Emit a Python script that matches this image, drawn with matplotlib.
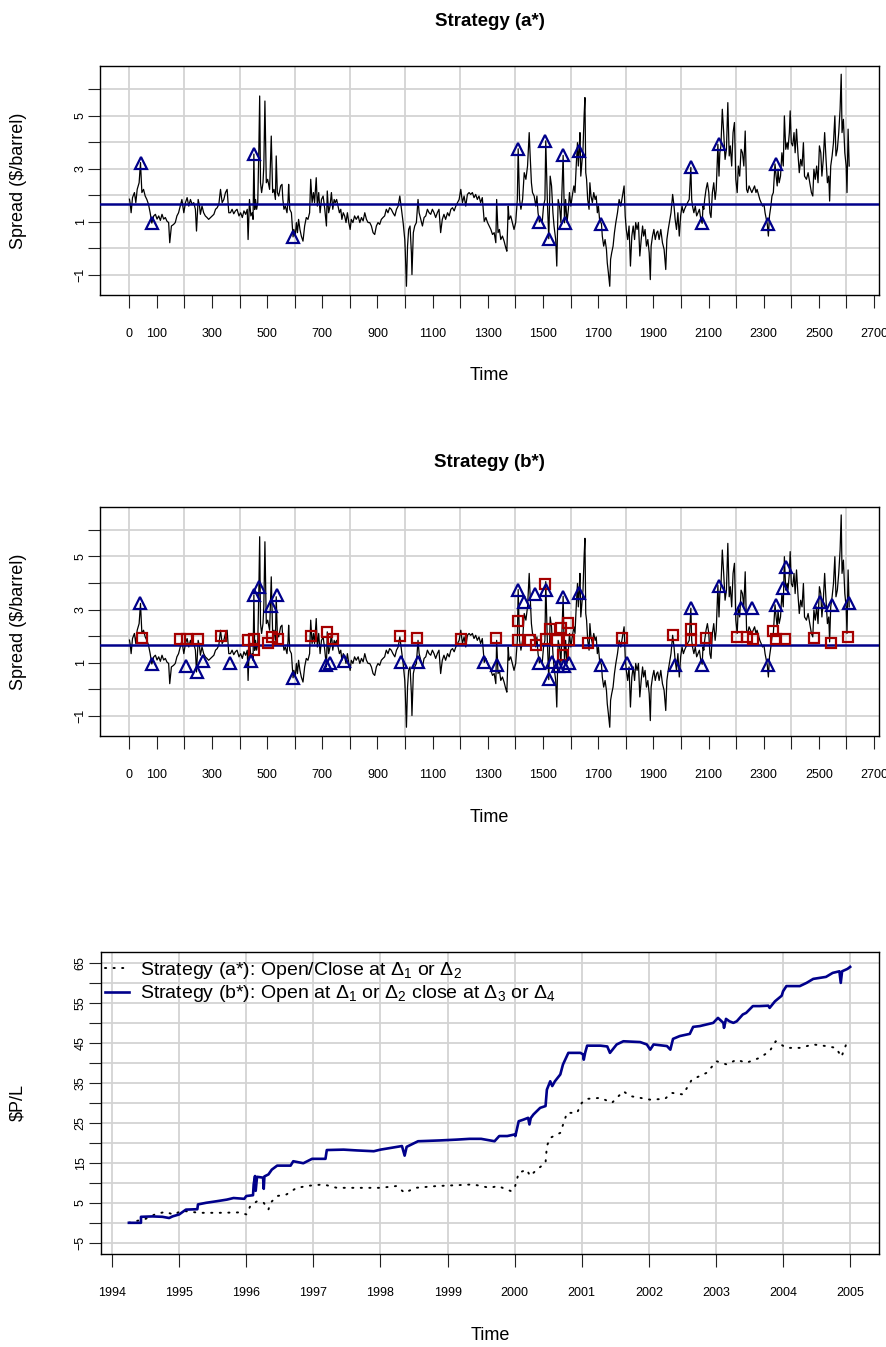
import matplotlib
matplotlib.use("Agg")
import matplotlib.pyplot as plt
from matplotlib.lines import Line2D
import numpy as np

plt.rcParams['font.family'] = ['Liberation Sans', 'DejaVu Sans']
plt.rcParams['mathtext.fontset'] = 'custom'
plt.rcParams['mathtext.rm'] = 'Liberation Sans'
plt.rcParams['mathtext.it'] = 'Liberation Sans:italic'
plt.rcParams['axes.unicode_minus'] = True

# ---------------------------------------------------------------- data
# daily crack spread ($/barrel), (trading day, value)
spread_obs = [
    (1, 1.85), (4, 1.66), (7, 1.34), (12, 1.91), (19, 2.10), (24, 1.72), (29, 2.22), (36, 2.47),
    (41, 3.23), (46, 2.10), (52, 2.22), (58, 1.97), (64, 1.84), (70, 1.66), (76, 1.34), (82, 0.95),
    (89, 1.22), (95, 1.28), (101, 1.10), (107, 1.22), (113, 1.05), (119, 1.28), (125, 1.10),
    (131, 1.16), (137, 1.02), (143, 0.97), (147, 0.21), (153, 0.84), (161, 0.90), (167, 0.97),
    (173, 1.22), (179, 1.34), (185, 1.59), (191, 1.84), (198, 1.34), (204, 1.72), (210, 1.91),
    (216, 1.59), (222, 1.84), (228, 1.66), (234, 1.72), (240, 1.47), (244, 0.65), (250, 1.84),
    (255, 1.59), (258, 1.28), (264, 1.59), (270, 1.34), (276, 1.22), (282, 1.16), (288, 1.09),
    (295, 1.16), (301, 1.22), (307, 1.28), (313, 1.47), (319, 1.53), (325, 1.66), (331, 2.22),
    (337, 1.72), (343, 1.84), (349, 2.10), (355, 2.22), (361, 1.34), (367, 1.34), (373, 1.47),
    (379, 1.30), (385, 1.41), (391, 1.47), (398, 1.22), (404, 1.34), (410, 1.16), (416, 1.41),
    (422, 1.28), (428, 1.47), (431, 0.33), (436, 1.84), (441, 1.22), (446, 1.34), (449, 1.09),
    (452, 3.55), (455, 1.46), (458, 1.84), (462, 1.47), (466, 1.72), (470, 3.73), (473, 5.74),
    (476, 2.47), (480, 2.10), (485, 2.47), (488, 3.10), (492, 5.55), (497, 2.47), (502, 2.60),
    (509, 2.22), (515, 4.23), (520, 2.10), (525, 2.22), (530, 1.84), (533, 3.48), (537, 2.10),
    (542, 1.97), (549, 2.35), (554, 2.41), (557, 1.84), (561, 1.47), (566, 1.59), (572, 1.34),
    (576, 1.84), (578, 2.41), (582, 1.47), (588, 1.34), (594, 0.43), (597, 0.71), (602, 0.46),
    (606, 0.97), (610, 0.59), (614, 1.09), (619, 0.71), (624, 0.46), (630, 0.27), (636, 0.84),
    (642, 1.16), (648, 1.09), (654, 1.34), (658, 2.60), (663, 1.72), (668, 2.10), (672, 1.72),
    (678, 2.66), (682, 1.59), (687, 2.10), (692, 1.34), (697, 1.84), (703, 1.97), (709, 1.47),
    (715, 0.84), (718, 2.16), (723, 1.34), (728, 1.59), (733, 2.10), (738, 1.47), (743, 1.84),
    (747, 1.72), (752, 1.84), (757, 1.59), (762, 1.34), (767, 1.47), (771, 1.09), (776, 1.34),
    (781, 1.22), (786, 0.97), (791, 1.34), (796, 0.97), (801, 0.71), (805, 1.09), (811, 0.97),
    (817, 1.22), (823, 1.09), (830, 1.22), (836, 0.97), (842, 1.16), (848, 1.03), (854, 1.34),
    (860, 1.09), (866, 0.97), (872, 0.97), (878, 0.84), (884, 0.59), (890, 0.52), (896, 0.84),
    (902, 0.97), (908, 0.90), (914, 1.09), (920, 1.16), (926, 1.22), (932, 1.47), (938, 1.34),
    (944, 1.53), (950, 1.47), (956, 1.34), (963, 1.22), (969, 1.47), (975, 1.59), (981, 1.97),
    (987, 1.47), (993, 0.97), (999, 0.33), (1001, -0.17), (1005, -1.43), (1009, 0.08), (1013, 0.71),
    (1018, 0.84), (1023, -0.17), (1025, -0.99), (1030, 0.59), (1035, 0.84), (1041, 0.97),
    (1047, 1.84), (1051, 1.34), (1057, 1.09), (1063, 0.84), (1069, 1.16), (1075, 1.22), (1081, 1.47),
    (1087, 1.34), (1093, 1.28), (1099, 1.47), (1105, 1.34), (1111, 1.16), (1117, 1.34), (1123, 1.47),
    (1129, 0.59), (1135, 1.09), (1141, 1.28), (1147, 1.09), (1154, 1.34), (1160, 1.22), (1166, 1.47),
    (1172, 1.53), (1178, 1.41), (1184, 1.59), (1190, 1.72), (1196, 1.84), (1202, 2.22), (1208, 1.72),
    (1214, 1.97), (1220, 1.59), (1226, 2.03), (1232, 2.10), (1238, 2.03), (1244, 2.10), (1250, 1.91),
    (1256, 2.03), (1262, 1.84), (1268, 1.97), (1274, 1.72), (1280, 1.91), (1287, 1.01), (1293, 1.16),
    (1299, 0.97), (1305, 0.84), (1311, 0.71), (1317, 0.52), (1323, 0.59), (1329, 0.21), (1332, 1.84),
    (1337, 0.59), (1342, 0.71), (1347, 0.33), (1353, 0.46), (1359, 0.27), (1365, 0.02), (1369, -0.11),
    (1374, 1.59), (1377, 1.09), (1383, 1.22), (1389, 0.97), (1395, 0.71), (1401, 0.97), (1407, 1.84),
    (1410, 3.75), (1415, 1.84), (1420, 1.47), (1426, 1.84), (1432, 2.85), (1438, 2.60), (1444, 3.10),
    (1450, 4.36), (1453, 3.60), (1458, 2.47), (1462, 2.10), (1468, 1.97), (1474, 1.59), (1478, 1.97),
    (1482, 1.34), (1487, 0.99), (1492, 1.09), (1497, 0.97), (1502, 1.59), (1507, 1.84), (1510, 4.05),
    (1516, 1.72), (1521, 0.36), (1526, 2.72), (1531, 2.35), (1536, 1.34), (1540, 0.84), (1546, 0.33),
    (1550, -0.67), (1555, 1.84), (1560, 1.59), (1565, 0.97), (1573, 3.50), (1578, 0.96), (1582, 1.84),
    (1587, 0.97), (1592, 1.47), (1596, 2.10), (1601, 1.59), (1606, 1.97), (1612, 2.35), (1616, 2.10),
    (1621, 3.23), (1625, 3.98), (1628, 3.10), (1631, 3.67), (1634, 4.36), (1637, 2.72), (1640, 3.10),
    (1645, 3.73), (1649, 4.99), (1652, 5.68), (1655, 2.85), (1658, 2.60), (1662, 1.84), (1667, 1.47),
    (1670, 2.47), (1674, 1.97), (1679, 1.72), (1684, 2.10), (1689, 1.84), (1693, 1.97), (1697, 1.34),
    (1701, 1.59), (1705, 1.09), (1712, 0.92), (1715, 0.46), (1720, 0.08), (1725, 0.33), (1730, -0.04),
    (1733, -0.55), (1737, -0.92), (1742, -1.43), (1745, -0.42), (1749, -0.17), (1754, 0.08),
    (1759, 0.59), (1764, 0.97), (1770, 1.34), (1776, 1.84), (1782, 1.59), (1788, 1.97), (1794, 2.35),
    (1798, 1.22), (1802, 0.71), (1807, 0.33), (1812, 0.84), (1817, -0.67), (1822, 0.46), (1827, 0.84),
    (1832, 0.33), (1836, 0.97), (1841, 0.71), (1846, 0.97), (1851, -0.29), (1856, 0.33), (1861, 0.84),
    (1865, 0.46), (1870, 0.71), (1875, 0.08), (1880, 0.33), (1885, -0.17), (1889, -1.18), (1892, 0.08),
    (1897, 0.46), (1902, 0.71), (1907, 0.33), (1912, 0.59), (1916, 0.65), (1921, 0.33), (1927, 0.71),
    (1933, 0.21), (1939, -0.04), (1945, -0.80), (1949, 0.33), (1954, 0.71), (1958, 0.97), (1964, 1.34),
    (1970, 2.03), (1975, 1.59), (1979, 1.09), (1984, 0.71), (1989, 1.34), (1994, 0.46), (1999, 1.22),
    (2004, 1.59), (2009, 1.34), (2013, 1.47), (2018, 1.59), (2024, 1.72), (2030, 1.84), (2036, 3.05),
    (2039, 1.84), (2042, 1.59), (2047, 1.34), (2052, 1.59), (2057, 1.22), (2062, 1.34), (2067, 1.47),
    (2072, 1.09), (2077, 0.94), (2080, 1.59), (2083, 1.47), (2086, 1.84), (2091, 2.22), (2096, 2.47),
    (2101, 2.10), (2105, 1.34), (2109, 1.16), (2114, 2.10), (2119, 2.47), (2124, 1.84), (2128, 2.22),
    (2134, 3.92), (2138, 2.72), (2141, 3.60), (2145, 3.86), (2150, 5.24), (2155, 4.36), (2160, 3.35),
    (2165, 3.73), (2170, 5.49), (2175, 3.48), (2179, 3.86), (2184, 3.10), (2189, 4.36), (2194, 4.74),
    (2199, 2.60), (2204, 2.10), (2208, 3.10), (2213, 2.72), (2218, 3.73), (2223, 3.60), (2228, 3.10),
    (2233, 4.42), (2238, 2.22), (2242, 2.10), (2247, 2.35), (2252, 2.22), (2257, 2.10), (2262, 2.22),
    (2267, 2.35), (2272, 2.10), (2276, 2.22), (2281, 2.03), (2286, 1.84), (2291, 1.72), (2296, 1.59),
    (2301, 1.66), (2305, 1.34), (2313, 0.91), (2317, 0.46), (2321, 1.22), (2326, 1.59), (2330, 1.97),
    (2335, 2.10), (2341, 3.18), (2345, 2.72), (2349, 2.35), (2352, 2.98), (2356, 2.47), (2361, 2.72),
    (2366, 3.60), (2371, 3.10), (2375, 4.99), (2380, 3.73), (2385, 3.98), (2388, 3.73), (2393, 4.36),
    (2396, 5.18), (2400, 3.98), (2405, 3.86), (2410, 4.36), (2414, 3.60), (2419, 4.49), (2424, 3.60),
    (2429, 2.85), (2434, 3.35), (2439, 3.10), (2444, 3.98), (2448, 2.72), (2455, 2.60), (2461, 2.85),
    (2467, 2.47), (2473, 2.10), (2478, 1.97), (2482, 2.98), (2487, 2.60), (2492, 3.10), (2497, 2.47),
    (2502, 3.86), (2507, 3.60), (2511, 2.72), (2516, 3.35), (2521, 4.36), (2526, 3.35), (2531, 2.47),
    (2536, 2.72), (2539, 1.78), (2543, 3.10), (2548, 3.48), (2553, 3.98), (2558, 4.99), (2562, 3.48),
    (2567, 3.73), (2572, 4.36), (2577, 5.24), (2581, 6.56), (2584, 4.36), (2589, 4.86), (2594, 3.60),
    (2599, 3.10), (2602, 2.10), (2606, 4.49), (2610, 3.10),
]
spread_mean = 1.655

# strategy (a*): entry/exit days
a_trade_t = [41, 82, 451, 594, 1409, 1486, 1509, 1521, 1573, 1578, 1631, 1712, 2036, 2078, 2137,
             2317, 2344]
a_trade_v = [3.23, 0.95, 3.55, 0.43, 3.75, 0.99, 4.05, 0.36, 3.50, 0.96, 3.67, 0.92, 3.05, 0.94,
             3.92, 0.91, 3.18]

# strategy (b*): openings (triangles) and closings (squares)
b_open_t = [40, 82, 206, 246, 268, 364, 443, 452, 472, 513, 535, 594, 713, 727, 779, 984, 1048,
            1287, 1335, 1409, 1430, 1472, 1487, 1511, 1521, 1532, 1556, 1573, 1577, 1594, 1631,
            1712, 1803, 1978, 2036, 2077, 2138, 2218, 2257, 2317, 2345, 2369, 2382, 2504, 2546, 2610]
b_open_v = [3.23, 0.95, 0.89, 0.66, 1.06, 1.00, 1.05, 3.53, 3.85, 3.15, 3.54, 0.43, 0.90, 1.00,
            1.06, 1.04, 1.01, 1.01, 0.92, 3.73, 3.30, 3.60, 1.00, 3.73, 0.38, 1.02, 0.88, 3.48,
            0.88, 1.00, 3.64, 0.93, 0.99, 0.90, 3.04, 0.93, 3.89, 3.06, 3.06, 0.90, 3.16, 3.81,
            4.61, 3.29, 3.16, 3.23]
b_close_t = [46, 185, 210, 248, 333, 429, 451, 452, 504, 519, 538, 659, 718, 738, 983, 1044, 1202,
             1330, 1409, 1411, 1452, 1473, 1509, 1511, 1527, 1551, 1567, 1574, 1590, 1595, 1663,
             1788, 1973, 2035, 2037, 2090, 2203, 2239, 2261, 2332, 2345, 2379, 2481, 2544, 2607]
b_close_v = [1.94, 1.88, 1.90, 1.90, 2.00, 1.85, 1.88, 1.46, 1.75, 1.98, 1.88, 2.00, 2.14, 1.88,
             2.00, 1.94, 1.88, 1.91, 2.55, 1.85, 1.84, 1.66, 3.96, 1.88, 2.28, 1.85, 2.31, 1.30,
             2.48, 1.85, 1.73, 1.94, 2.04, 2.28, 1.85, 1.93, 1.98, 1.98, 1.88, 2.20, 1.88, 1.88,
             1.91, 1.73, 1.98]

# cumulative profit and loss ($), (year, value)
pl_a_obs = [
    (1994.25, 0.0), (1994.50, 1.0), (1994.65, 2.2), (1994.80, 2.75), (1994.92, 2.0), (1995.00, 2.75),
    (1995.10, 2.9), (1995.30, 2.5), (1995.60, 2.5), (1995.90, 2.6), (1996.00, 2.1), (1996.06, 4.2),
    (1996.16, 5.4), (1996.26, 5.0), (1996.33, 3.3), (1996.36, 5.0), (1996.46, 6.7), (1996.60, 7.1),
    (1996.75, 8.75), (1996.95, 9.3), (1997.15, 9.6), (1997.35, 8.75), (1997.65, 8.75), (1998.00, 8.75),
    (1998.24, 9.2), (1998.36, 7.5), (1998.52, 8.75), (1998.84, 9.2), (1999.13, 9.4), (1999.38, 9.6),
    (1999.63, 8.75), (1999.75, 9.2), (1999.95, 7.9), (2000.00, 8.75), (2000.06, 12.5), (2000.18, 13.3),
    (2000.23, 11.7), (2000.33, 13.3), (2000.46, 15.0), (2000.48, 19.2), (2000.53, 21.25),
    (2000.68, 22.5), (2000.78, 27.5), (2000.93, 27.5), (2001.00, 30.0), (2001.08, 31.0),
    (2001.28, 31.25), (2001.45, 30.0), (2001.62, 32.9), (2001.72, 31.7), (2001.87, 31.25),
    (2002.02, 30.8), (2002.24, 31.0), (2002.34, 32.5), (2002.51, 32.1), (2002.64, 35.8),
    (2002.86, 37.5), (2003.01, 40.4), (2003.16, 39.6), (2003.31, 40.8), (2003.45, 40.0),
    (2003.65, 41.25), (2003.80, 42.9), (2003.89, 45.4), (2004.05, 43.75), (2004.25, 43.75),
    (2004.45, 44.6), (2004.64, 44.2), (2004.79, 43.75), (2004.87, 41.5), (2004.94, 44.6), (2005.00, 44.0),
]
pl_b_obs = [
    (1994.25, 0.0), (1994.43, 0.0), (1994.43, 1.5), (1994.60, 1.6), (1994.75, 1.5), (1994.85, 1.2),
    (1994.90, 1.6), (1995.00, 2.1), (1995.10, 3.3), (1995.27, 3.4), (1995.28, 4.6), (1995.40, 5.0),
    (1995.56, 5.4), (1995.71, 5.8), (1995.81, 6.2), (1995.97, 6.0), (1996.00, 6.7), (1996.10, 6.9),
    (1996.11, 9.6), (1996.13, 11.7), (1996.14, 8.0), (1996.16, 11.5), (1996.25, 11.3), (1996.26, 8.5),
    (1996.27, 11.6), (1996.33, 12.1), (1996.38, 13.3), (1996.46, 14.3), (1996.66, 14.3), (1996.70, 15.4),
    (1996.85, 14.9), (1996.98, 16.0), (1997.18, 16.0), (1997.20, 18.2), (1997.45, 18.3), (1997.65, 18.1),
    (1997.90, 17.9), (1998.00, 18.3), (1998.32, 19.2), (1998.36, 16.8), (1998.39, 19.0), (1998.56, 20.4),
    (1998.88, 20.6), (1999.13, 20.8), (1999.33, 21.0), (1999.50, 21.0), (1999.70, 20.4), (1999.77, 21.7),
    (1999.89, 21.7), (2000.00, 22.1), (2000.01, 21.7), (2000.06, 25.4), (2000.13, 25.8), (2000.20, 26.25),
    (2000.22, 24.6), (2000.24, 26.2), (2000.28, 27.1), (2000.38, 28.75), (2000.46, 29.2), (2000.48, 33.3),
    (2000.53, 35.4), (2000.56, 34.2), (2000.60, 35.4), (2000.68, 37.1), (2000.72, 39.6), (2000.80, 42.5),
    (2000.98, 42.5), (2001.02, 42.1), (2001.03, 40.8), (2001.05, 42.5), (2001.08, 44.3), (2001.28, 44.3),
    (2001.38, 44.1), (2001.42, 42.5), (2001.52, 44.6), (2001.62, 45.4), (2001.87, 45.2), (2001.97, 44.6),
    (2002.02, 43.3), (2002.07, 44.6), (2002.27, 44.2), (2002.32, 43.3), (2002.36, 46.0), (2002.46, 46.7),
    (2002.61, 47.25), (2002.66, 49.0), (2002.76, 49.2), (2002.86, 49.6), (2002.96, 50.0), (2003.03, 51.25),
    (2003.11, 50.0), (2003.12, 48.75), (2003.15, 51.0), (2003.20, 50.4), (2003.26, 50.0), (2003.31, 50.4),
    (2003.40, 52.1), (2003.45, 52.5), (2003.55, 54.2), (2003.65, 54.2), (2003.78, 54.3), (2003.80, 53.75),
    (2003.88, 55.4), (2003.98, 56.8), (2004.00, 57.9), (2004.05, 59.2), (2004.15, 59.2), (2004.25, 59.2),
    (2004.35, 60.0), (2004.45, 61.0), (2004.64, 61.5), (2004.74, 62.5), (2004.84, 62.9), (2004.86, 60.0),
    (2004.88, 62.9), (2004.96, 63.5), (2005.00, 64.0),
]

spread_yticks = [-1, 0, 1, 2, 3, 4, 5, 6]
spread_ylabels = ['\u22121', '', '1', '', '3', '', '5', '']
spread_xticks = list(range(0, 2701, 100))
spread_xlabels = [str(v) if (v == 0 or (v // 100) % 2 == 1) else '' for v in spread_xticks]
pl_yticks = list(range(-5, 66, 5))
pl_ylabels = [('\u2212' + str(-v) if v < 0 else str(v)) if (v // 5) % 2 != 0 else '' for v in pl_yticks]
pl_years = list(range(1994, 2006))

# ---------------------------------------------------------------- layout
W, H = 887, 1347
NAVY = '#00008B'
DARKRED = '#A50000'
GRID = '#D3D3D3'
FS = 13

fig = plt.figure(figsize=(W / 100, H / 100), dpi=100)


def add_axes_px(left, top, right, bottom):
    return fig.add_axes([left / W, 1 - bottom / H, (right - left) / W, (bottom - top) / H])


def frame(ax, top, bottom, left=100.5):
    hgt = bottom - top
    wid = 879 - left
    for s in ax.spines.values():
        s.set_linewidth(1.0)
        s.set_color('black')
    ax.tick_params(axis='both', length=9, width=0.8, color='#222222', labelsize=9)
    ax.tick_params(axis='x', pad=14.5)
    ax.tick_params(axis='y', pad=1)
    for lab in ax.get_yticklabels():
        lab.set_rotation(90)
        lab.set_va('center')
    ax.xaxis.label.set_fontsize(FS)
    ax.yaxis.label.set_fontsize(FS)
    ax.xaxis.set_label_coords(0.5, -81 / hgt)
    ax.xaxis.label.set_va('center')
    ax.yaxis.set_label_coords((18 - left) / wid, 0.5)
    ax.yaxis.label.set_va('center')


def spread_panel(ax, title):
    t = [p[0] for p in spread_obs]
    v = [p[1] for p in spread_obs]
    for g in range(0, 2700, 200):
        ax.axvline(g, color=GRID, lw=1.3, zorder=0)
    for g in spread_yticks:
        ax.axhline(g, color=GRID, lw=1.3, zorder=0)
    ax.plot(t, v, color='black', lw=0.9, zorder=2)
    ax.axhline(spread_mean, color=NAVY, lw=1.8, zorder=3)
    ax.set_xlim(-104, 2718)
    ax.set_ylim(-1.76, 6.87)
    ax.set_xticks(spread_xticks)
    ax.set_xticklabels(spread_xlabels)
    ax.set_yticks(spread_yticks)
    ax.set_yticklabels(spread_ylabels)
    ax.set_xlabel('Time')
    ax.set_ylabel('Spread ($/barrel)')
    ax.set_title(title, fontsize=13.5, fontweight='bold', y=1 + 44 / 229, va='center', pad=0)


# panel 1: strategy (a*)
ax1 = add_axes_px(100.5, 66, 879, 295)
spread_panel(ax1, 'Strategy (a*)')
ax1.plot(a_trade_t, a_trade_v, ls='none', marker='^', ms=9, mfc='none', mec=NAVY, mew=1.6, zorder=4)
frame(ax1, 66, 295)

# panel 2: strategy (b*)
ax2 = add_axes_px(100.5, 506.7, 879, 736)
spread_panel(ax2, 'Strategy (b*)')
ax2.plot(b_close_t, b_close_v, ls='none', marker='s', ms=7.5, mfc='none', mec=DARKRED, mew=1.6, zorder=4)
ax2.plot(b_open_t, b_open_v, ls='none', marker='^', ms=9, mfc='none', mec=NAVY, mew=1.6, zorder=5)
frame(ax2, 506.7, 736)

# panel 3: cumulative P/L
DOTS = (0, (0.6, 3.8))
ax3 = add_axes_px(100.7, 951.7, 879, 1254)
for g in pl_years:
    ax3.axvline(g, color=GRID, lw=1.3, zorder=0)
for g in pl_yticks:
    ax3.axhline(g, color=GRID, lw=1.3, zorder=0)
ax3.plot([p[0] for p in pl_a_obs], [p[1] for p in pl_a_obs], color='black', lw=1.4,
         ls=DOTS, dash_capstyle='round', zorder=2)
ax3.plot([p[0] for p in pl_b_obs], [p[1] for p in pl_b_obs], color=NAVY, lw=1.9, zorder=3)
ax3.set_xlim(1993.83, 2005.43)
ax3.set_ylim(-7.8, 67.8)
ax3.set_xticks(pl_years)
ax3.set_xticklabels([str(y) for y in pl_years])
ax3.set_yticks(pl_yticks)
ax3.set_yticklabels(pl_ylabels)
ax3.set_xlabel('Time')
ax3.set_ylabel('\\$P/L')
handles = [
    Line2D([], [], color='black', lw=1.4, ls=DOTS, dash_capstyle='round'),
    Line2D([], [], color=NAVY, lw=1.9),
]
labels = [
    r'Strategy (a*): Open/Close at $\Delta_1$ or $\Delta_2$',
    r'Strategy (b*): Open at $\Delta_1$ or $\Delta_2$ close at $\Delta_3$ or $\Delta_4$',
]
ax3.legend(handles, labels, loc='upper left', bbox_to_anchor=(0.0, 0.985), frameon=False,
           fontsize=14, handlelength=1.25, handletextpad=0.55, labelspacing=0.12,
           borderaxespad=0.0, borderpad=0.2)
frame(ax3, 951.7, 1254, left=100.7)

fig.savefig('out.png', dpi=100)
